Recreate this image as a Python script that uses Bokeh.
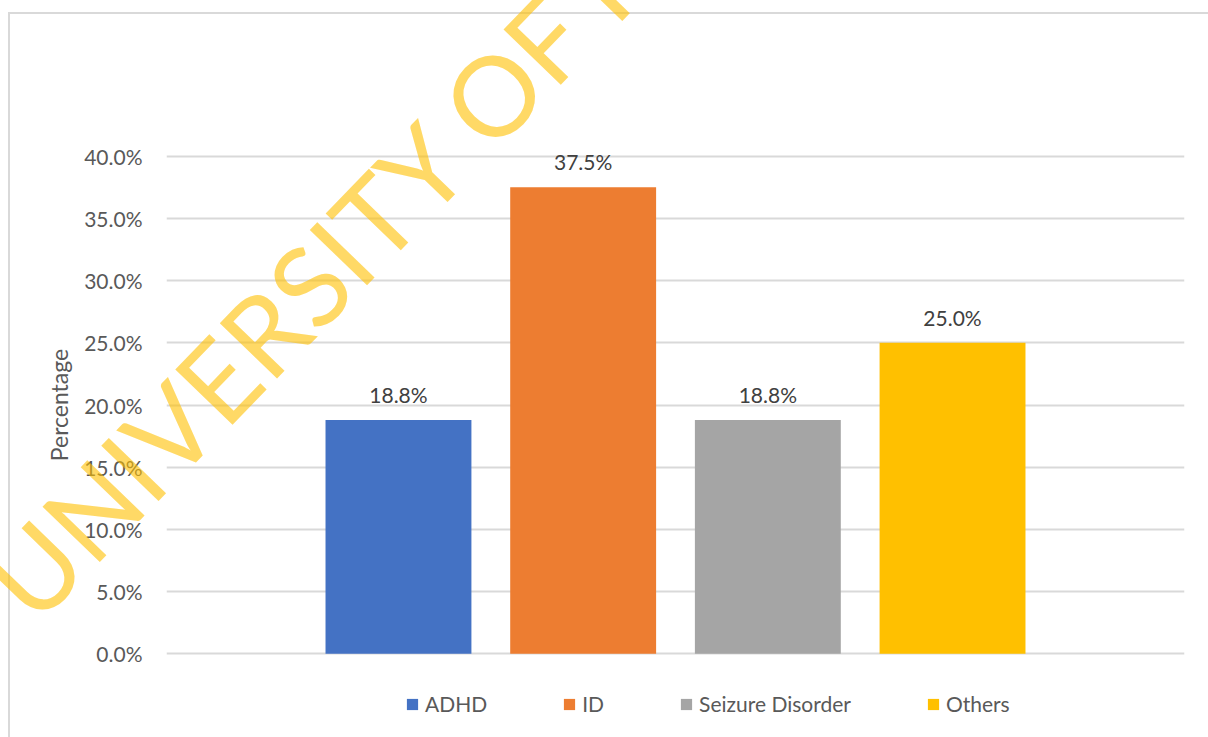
from bokeh.core.properties import value
from bokeh.embed import file_html
from bokeh.models import (ColumnDataSource, FixedTicker, InlineStyleSheet,
                          LabelSet, Legend, LegendItem, NumeralTickFormatter,
                          Range1d)
from bokeh.plotting import figure
from bokeh.resources import INLINE

# ---- data -------------------------------------------------------------
categories = ["ADHD", "ID", "Seizure Disorder", "Others"]
shares = [0.188, 0.375, 0.188, 0.250]
colors = ["#4472C4", "#ED7D31", "#A5A5A5", "#FFC000"]
y_ticks = [0.00, 0.05, 0.10, 0.15, 0.20, 0.25, 0.30, 0.35, 0.40]
y_title = "Percentage"
watermark = "UNIVERSITY OF IBADAN LIBRARY"

# ---- styling ----------------------------------------------------------
FONT = "Lato"
TEXT_GREY = "#595959"
LABEL_GREY = "#404040"
GRID_GREY = "#D9D9D9"

n = len(categories)
positions = [i - (n - 1) / 2 for i in range(n)]
value_labels = [f"{v:.1%}" for v in shares]

source = ColumnDataSource(dict(
    x=positions, y=shares, name=categories, color=colors, label=value_labels,
))

# the frame reaches down to the legend row; equal padding above and below
# keeps the axis title centred on the 0-40 % span
pad = 0.0673
p = figure(
    width=1208, height=737,
    output_backend="svg", toolbar_location=None,
    x_axis_location=None,
    x_range=Range1d(-2.756, 2.756), y_range=Range1d(-pad, max(y_ticks) + pad),
    min_border_left=166, min_border_right=24,
    min_border_top=72, min_border_bottom=0,
)
p.background_fill_alpha = 0
p.border_fill_alpha = 0
p.outline_line_color = None

# chart-area border (top and left edges) and the diagonal library stamp
p.styles = {
    "background": (
        f"linear-gradient({GRID_GREY}, {GRID_GREY}) no-repeat 8px 12px / 2px 100%, "
        f"linear-gradient({GRID_GREY}, {GRID_GREY}) no-repeat 8px 12px / 100% 2px, "
        "white"
    ),
}
p.stylesheets = [InlineStyleSheet(css=f"""
:host {{ position: relative; overflow: hidden; }}
:host::after {{
  content: "{watermark}";
  position: absolute; left: 36px; top: 530px;
  font-family: {FONT}; font-size: 111px; line-height: 1;
  color: rgba(255, 192, 0, 0.6);
  white-space: nowrap; pointer-events: none;
  transform-origin: 0 98px; transform: rotate(-46deg);
}}
""")]

# bars, one per series
bars = p.vbar(x="x", top="y", bottom=0, width=0.79, fill_color="color",
              line_color=None, source=source)

# value labels above the bars
p.add_layout(LabelSet(
    x="x", y="y", text="label", source=source, y_offset=17,
    text_align="center", text_baseline="alphabetic",
    text_font=value(FONT), text_font_size="21px", text_color=LABEL_GREY,
))

# y axis and horizontal grid
p.xgrid.visible = False
p.ygrid.ticker = FixedTicker(ticks=y_ticks)
p.ygrid.grid_line_color = GRID_GREY
p.ygrid.grid_line_width = 2

yax = p.yaxis[0]
yax.ticker = FixedTicker(ticks=y_ticks)
yax.formatter = NumeralTickFormatter(format="0.0%")
yax.axis_line_color = None
yax.major_tick_line_color = None
yax.minor_tick_line_color = None
yax.major_tick_in = 0
yax.major_tick_out = 0
yax.major_label_standoff = 24
yax.major_label_text_font = FONT
yax.major_label_text_font_size = "21px"
yax.major_label_text_color = TEXT_GREY
yax.axis_label = y_title
yax.axis_label_text_font = FONT
yax.axis_label_text_font_size = "23px"
yax.axis_label_text_font_style = "normal"
yax.axis_label_text_color = TEXT_GREY
yax.axis_label_standoff = 8

# legend row under the bars
legend = Legend(
    items=[LegendItem(label=c, renderers=[bars], index=i)
           for i, c in enumerate(categories)],
    orientation="horizontal", location=(239, 21),
    glyph_width=14, glyph_height=14, label_standoff=6, spacing=75,
    label_height=25, padding=0, margin=0,
    border_line_color=None, background_fill_alpha=0,
    label_text_font=FONT, label_text_font_size="21px",
    label_text_color=TEXT_GREY,
)
p.add_layout(legend)

open("out.html", "w").write(file_html(p, INLINE))
